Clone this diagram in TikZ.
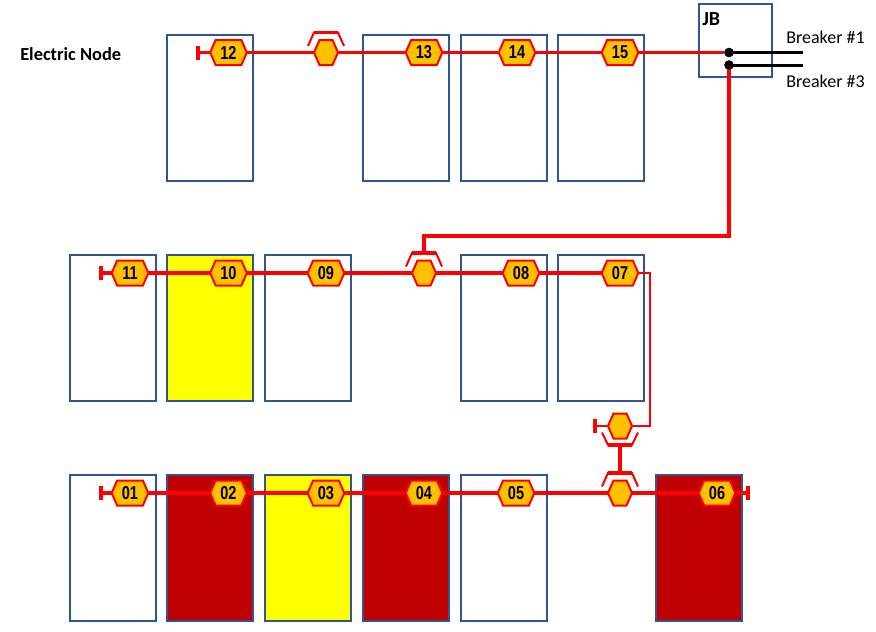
\documentclass[tikz,border=0pt]{standalone}
\usepackage{fontspec}
\setmainfont{Carlito}
\newfontfamily\hexfont[FakeStretch=0.78]{Liberation Sans}
\usetikzlibrary{calc}
\definecolor{boxblue}{HTML}{2F5597}
\definecolor{hexfill}{HTML}{FFC000}
\definecolor{darkred}{HTML}{C00000}
\definecolor{cabyellow}{HTML}{FFFF00}
\makeatletter
\pgfdeclareshape{cabhex}{
  \inheritsavedanchors[from=rectangle]
  \inheritanchorborder[from=rectangle]
  \inheritanchor[from=rectangle]{center}
  \inheritanchor[from=rectangle]{north}
  \inheritanchor[from=rectangle]{south}
  \inheritanchor[from=rectangle]{east}
  \inheritanchor[from=rectangle]{west}
  \backgroundpath{
    \pgf@process{\northeast}\pgf@xa=\pgf@x \pgf@ya=\pgf@y
    \pgf@process{\southwest}\pgf@xb=\pgf@x \pgf@yb=\pgf@y
    \pgf@yc=\dimexpr(\pgf@ya+\pgf@yb)/2\relax
    \pgf@xc=\dimexpr\pgf@xb+4.1pt\relax
    \pgfutil@tempdima=\dimexpr\pgf@xa-4.1pt\relax
    \pgfpathmoveto{\pgfqpoint{\pgf@xb}{\pgf@yc}}
    \pgfpathlineto{\pgfqpoint{\pgf@xc}{\pgf@ya}}
    \pgfpathlineto{\pgfqpoint{\pgfutil@tempdima}{\pgf@ya}}
    \pgfpathlineto{\pgfqpoint{\pgf@xa}{\pgf@yc}}
    \pgfpathlineto{\pgfqpoint{\pgfutil@tempdima}{\pgf@yb}}
    \pgfpathlineto{\pgfqpoint{\pgf@xc}{\pgf@yb}}
    \pgfpathclose
  }
}
\makeatother
\tikzset{
  cabinet/.style={draw=boxblue,line width=1.5pt,inner sep=0pt,outer sep=0pt,minimum width=64.25pt,minimum height=109.5pt,anchor=north west},
  hexbase/.style={cabhex,draw=red,fill=hexfill,line width=1.5pt,inner sep=0pt,outer sep=0pt,minimum height=18.75pt},
  hexnum/.style={hexbase,minimum width=27.5pt,font=\hexfont\bfseries\fontsize{14pt}{14pt}\selectfont,text=black},
  hexblank/.style={hexbase,minimum width=18pt},
  busline/.style={draw=red,line width=2.6pt},
  feedline/.style={draw=red,line width=2.3pt},
  thinline/.style={draw=red,line width=1.5pt},
  stub/.style={fill=red,inner sep=0pt,outer sep=0pt,minimum width=3pt,minimum height=10.5pt},
  dotnode/.style={circle,fill=black,inner sep=0pt,outer sep=0pt,minimum size=7pt},
  blackline/.style={draw=black,line width=2.25pt},
  textlabel/.style={inner sep=0pt,anchor=west,font=\fontsize{13.5pt}{13.5pt}\selectfont},
  boldlabel/.style={inner sep=0pt,anchor=west,font=\bfseries\fontsize{13.8pt}{13.8pt}\selectfont},
  bracketleg/.style={draw=red,line width=1.5pt},
  brackettop/.style={draw=red,line width=2.6pt},
}
\newcommand{\bracketup}[1]{%
  \draw[bracketleg] ([shift={(-18,-6.5)}]#1.center) -- ([shift={(-12,-20)}]#1.center) -- ([shift={(12,-20)}]#1.center) -- ([shift={(18,-6.5)}]#1.center);
  \draw[brackettop] ([shift={(-12,-20)}]#1.center) -- ([shift={(12,-20)}]#1.center);}
\newcommand{\bracketdown}[1]{%
  \draw[bracketleg] ([shift={(-18,6.5)}]#1.center) -- ([shift={(-12,19)}]#1.center) -- ([shift={(12,19)}]#1.center) -- ([shift={(18,6.5)}]#1.center);
  \draw[brackettop] ([shift={(-12,19)}]#1.center) -- ([shift={(12,19)}]#1.center);}
\begin{document}
\begin{tikzpicture}[x=0.75pt,y=-0.75pt]
\useasboundingbox (0,0) rectangle (876,632);
% cabinets
\node[cabinet] (t1) at (167,35) {};
\node[cabinet] (t2) at (363,35) {};
\node[cabinet] (t3) at (461,35) {};
\node[cabinet] (t4) at (558,35) {};
\node[cabinet,minimum width=54.75pt,minimum height=54.75pt] (jb) at (699,4) {};
\node[cabinet] (m1) at (70,255) {};
\node[cabinet,fill=cabyellow] (m2) at (167,255) {};
\node[cabinet] (m3) at (265,255) {};
\node[cabinet] (m4) at (461,255) {};
\node[cabinet] (m5) at (558,255) {};
\node[cabinet] (b1) at (70,475) {};
\node[cabinet,fill=darkred] (b2) at (167,475) {};
\node[cabinet,fill=cabyellow] (b3) at (265,475) {};
\node[cabinet,fill=darkred] (b4) at (363,475) {};
\node[cabinet] (b5) at (461,475) {};
\node[cabinet,fill=darkred] (b6) at (656,475) {};
% texts
\node[boldlabel] (title) at (20,54) {Electric Node};
\node[boldlabel,font=\bfseries\fontsize{15pt}{15pt}\selectfont] (jbt) at (702,19.5) {JB};
\node[textlabel] (br1) at (786,37) {Breaker \#1};
\node[textlabel] (br3) at (786,81) {Breaker \#3};
% hexagons
\foreach \n/\x/\y in {12/228.5/52.5,13/424/52.5,14/517/52.5,15/620/52.5,
  11/130/273,10/228.5/273,09/326/273,08/521/273,07/620/273,
  01/130/493,02/228.5/493,03/326/493,04/424/493,05/516/493,06/717/493}
  \node[hexnum] (h\n) at (\x,\y) {\n};
\node[hexblank] (ht) at (326,52.5) {};
\node[hexblank] (hm) at (424,273) {};
\node[hexblank] (hb) at (620,493) {};
\node[hexblank] (hs) at (620,426) {};
% stubs, junctions
\node[stub] (s12) at (198,52.5) {};
\node[stub] (s11) at (101,273) {};
\node[stub] (s01) at (101,493) {};
\node[stub] (s06) at (748,493) {};
\node[stub] (ss) at (595,426) {};
\node[dotnode] (d1) at (729,52.5) {};
\node[dotnode] (d3) at (729,65) {};
\coordinate (e1) at (803,52.5);
\coordinate (e3) at (803,65);
% bus lines
\draw[busline] (s12) -- (h12);
\draw[busline] (h12) -- (ht);
\draw[busline] (ht) -- (h13);
\draw[busline] (h13) -- (h14);
\draw[busline] (h14) -- (h15);
\draw[busline] (h15) -- (d1);
\draw[blackline] (d1.center) -- (e1);
\draw[blackline] (d3.center) -- (e3);
\draw[busline] (s11) -- (h11);
\draw[busline] (h11) -- (h10);
\draw[busline] (h10) -- (h09);
\draw[busline] (h09) -- (hm);
\draw[busline] (hm) -- (h08);
\draw[busline] (h08) -- (h07);
\draw[busline] (s01) -- (h01);
\draw[busline] (h01) -- (h02);
\draw[busline] (h02) -- (h03);
\draw[busline] (h03) -- (h04);
\draw[busline] (h04) -- (h05);
\draw[busline] (h05) -- (hb);
\draw[busline] (hb) -- (h06);
\draw[busline] (h06) -- (s06);
% brackets
\bracketup{ht}
\bracketup{hm}
\bracketup{hb}
\bracketdown{hs}
\draw[feedline] (d3.center) -- (729,236) -| ([shift={(0,-20)}]hm.center);
\draw[thinline] (h07.east) -- (650,273) |- (hs.east);
\draw[thinline] (hs.west) -- (ss);
\draw[feedline] ([shift={(0,19)}]hs.center) -- ([shift={(0,-20)}]hb.center);
\node[dotnode] (d1top) at (d1) {};
\node[dotnode] (d3top) at (d3) {};
\end{tikzpicture}
\end{document}
